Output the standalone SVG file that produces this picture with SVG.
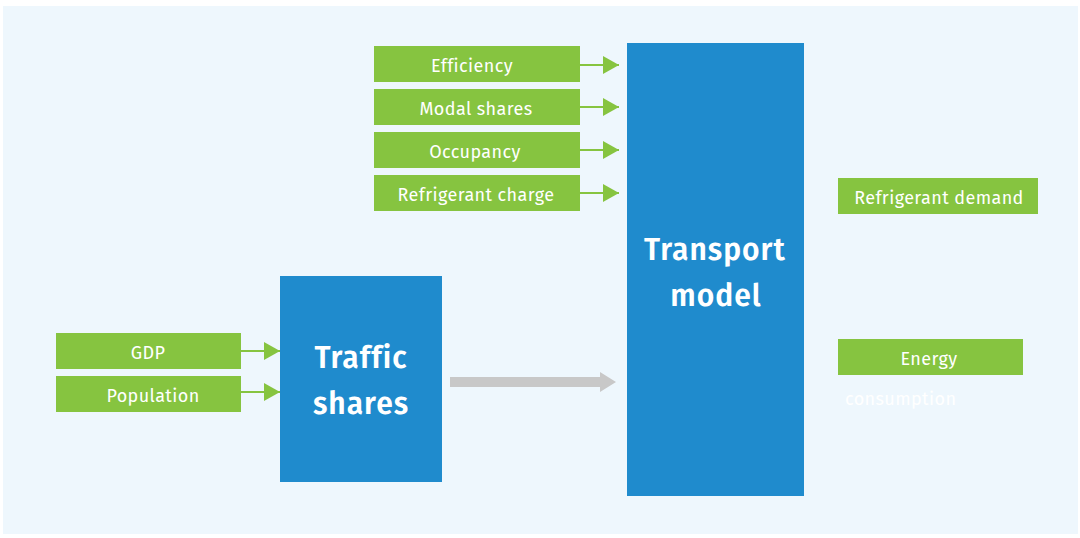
<svg xmlns="http://www.w3.org/2000/svg" width="1080" height="538" viewBox="0 0 1080 538">
<defs>
<style>
.g{fill:#86c440}
.b{fill:#1f8bcd}
.t{font-family:"Fira Sans","Open Sans","Noto Sans",sans-serif;font-size:18px;letter-spacing:0.4px;fill:#ffffff;text-anchor:middle}
.big{font-family:"Fira Sans","Open Sans","Noto Sans",sans-serif;font-size:30px;font-weight:600;fill:#ffffff;text-anchor:middle;letter-spacing:1px}
.ln{stroke:#86c440;stroke-width:2;fill:none}
</style>
<marker id="ah" markerWidth="16" markerHeight="18" refX="16" refY="9" orient="auto" markerUnits="userSpaceOnUse">
<path d="M0,0 L16,9 L0,18 Z" fill="#86c440"/>
</marker>
</defs>
<rect x="0" y="0" width="1080" height="538" fill="#ffffff"/>
<rect x="3" y="6" width="1075" height="528" fill="#eef7fd"/>
<g id="connectors">
<line class="ln" x1="580" y1="65" x2="619" y2="65" marker-end="url(#ah)"/>
<line class="ln" x1="580" y1="107" x2="619" y2="107" marker-end="url(#ah)"/>
<line class="ln" x1="580" y1="150" x2="619" y2="150" marker-end="url(#ah)"/>
<line class="ln" x1="580" y1="193" x2="619" y2="193" marker-end="url(#ah)"/>
<line class="ln" x1="241" y1="351" x2="280" y2="351" marker-end="url(#ah)"/>
<line class="ln" x1="241" y1="392" x2="280" y2="392" marker-end="url(#ah)"/>
<path d="M450,377 L600,377 L600,372 L616,382 L600,392 L600,387 L450,387 Z" fill="#c8c8c8"/>
</g>
<g id="efficiency"><rect class="g" x="374" y="46" width="206" height="36"/><text class="t" x="472" y="72">Efficiency</text></g>
<g id="modal-shares"><rect class="g" x="374" y="89" width="206" height="36"/><text class="t" x="476" y="115">Modal shares</text></g>
<g id="occupancy"><rect class="g" x="374" y="132" width="206" height="36"/><text class="t" x="475" y="158">Occupancy</text></g>
<g id="refrigerant-charge"><rect class="g" x="374" y="175" width="206" height="36"/><text class="t" x="476" y="201">Refrigerant charge</text></g>
<g id="transport-model"><rect class="b" x="627" y="43" width="177" height="453"/><text class="big" x="715" y="260">Transport</text><text class="big" x="716" y="306">model</text></g>
<g id="traffic-shares"><rect class="b" x="280" y="276" width="162" height="206"/><text class="big" x="361" y="368">Traffic</text><text class="big" x="361" y="414">shares</text></g>
<g id="gdp"><rect class="g" x="56" y="333" width="185" height="36"/><text class="t" x="148" y="359">GDP</text></g>
<g id="population"><rect class="g" x="56" y="376" width="185" height="36"/><text class="t" x="153" y="402">Population</text></g>
<g id="refrigerant-demand"><rect class="g" x="838" y="178" width="200" height="36"/><text class="t" x="939" y="204">Refrigerant demand</text></g>
<g id="energy-consumption"><rect class="g" x="838" y="339" width="185" height="36"/><text class="t" x="929" y="365">Energy</text><text x="845" y="405" style="font-family:'Fira Sans','Open Sans','Noto Sans',sans-serif;font-size:18px;letter-spacing:0.4px;fill:#ffffff">consumption</text></g>
</svg>
